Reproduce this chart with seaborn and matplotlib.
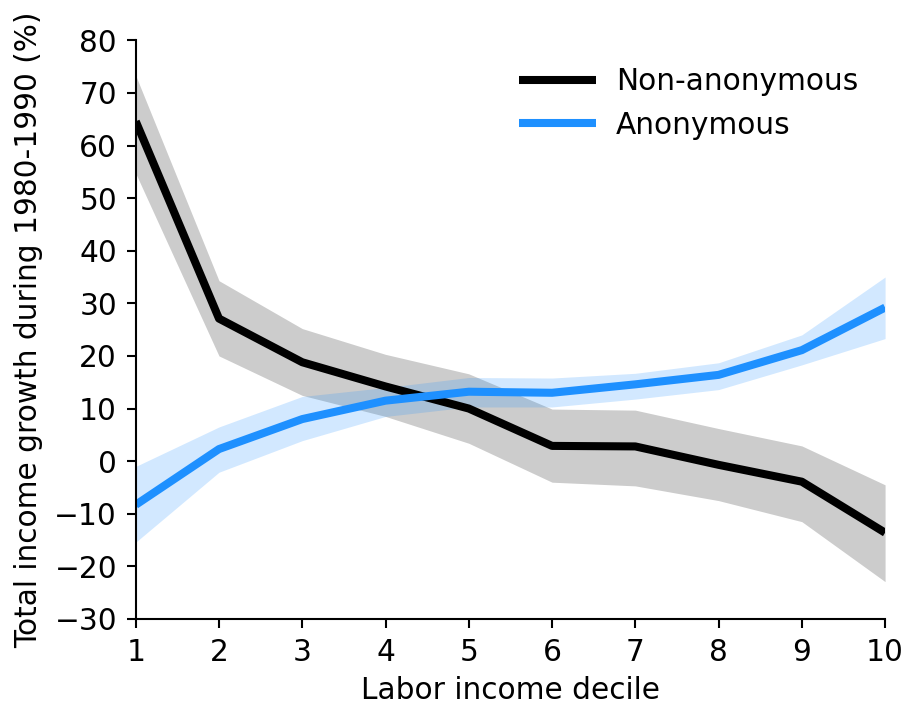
import numpy as np
import pandas as pd
import matplotlib
matplotlib.use("Agg")
import matplotlib.pyplot as plt
import seaborn as sns

deciles = [1, 2, 3, 4, 5, 6, 7, 8, 9, 10]

non_anon = [64.6, 27.1, 18.8, 14.2, 10.0, 2.9, 2.8, -0.7, -3.9, -13.6]
non_anon_hi = [73.3, 34.3, 25.2, 20.3, 16.6, 9.9, 9.7, 6.2, 2.9, -4.5]
non_anon_lo = [54.7, 20.0, 12.5, 8.5, 3.4, -4.0, -4.7, -7.5, -11.5, -22.9]

anon = [-8.3, 2.3, 8.0, 11.5, 13.2, 13.0, 14.6, 16.4, 21.1, 29.2]
anon_hi = [-1.0, 6.5, 12.3, 14.0, 15.9, 15.8, 16.7, 18.7, 24.0, 35.0]
anon_lo = [-15.4, -2.1, 3.9, 8.5, 10.3, 10.3, 11.8, 13.6, 18.3, 23.3]

series_names = ["Non-anonymous", "Anonymous"]
colors = ["black", "#1e90ff"]

sns.set_style("ticks")
plt.rcParams['font.family'] = ['DejaVu Sans']
fs = 21.3
plt.rcParams.update({
    'font.size': fs,
    'text.color': 'black',
    'axes.labelcolor': 'black',
    'xtick.color': 'black',
    'ytick.color': 'black',
    'axes.edgecolor': 'black',
    'lines.solid_capstyle': 'butt',
})

df = pd.DataFrame({
    "decile": deciles * 2,
    "growth": non_anon + anon,
    "series": [series_names[0]] * 10 + [series_names[1]] * 10,
})

fig, ax = plt.subplots(figsize=(9.05, 7.07), dpi=100)
fig.subplots_adjust(left=0.150, right=0.978, top=0.943, bottom=0.1245)

ax.fill_between(deciles, non_anon_lo, non_anon_hi, color=colors[0], alpha=0.2, linewidth=0)
ax.fill_between(deciles, anon_lo, anon_hi, color=colors[1], alpha=0.2, linewidth=0)

sns.lineplot(data=df, x="decile", y="growth", hue="series", palette=colors,
             hue_order=series_names, linewidth=5.8, ax=ax, legend=True)

ax.set_xlim(1, 10)
ax.set_ylim(-30, 80)
ax.set_xticks(deciles)
ax.set_yticks(np.arange(-30, 81, 10))
ax.set_xlabel("Labor income decile", fontsize=fs, labelpad=7)
ax.set_ylabel("Total income growth during 1980-1990 (%)", fontsize=fs, labelpad=8)
ax.tick_params(labelsize=fs, width=1.5, length=6.5, pad=7)
for s in ["left", "bottom"]:
    ax.spines[s].set_linewidth(1.5)
sns.despine(ax=ax)

leg = ax.legend(loc="upper right", bbox_to_anchor=(1.0, 1.0), frameon=False,
                fontsize=fs, handlelength=2.6, handletextpad=0.7,
                labelspacing=0.5, title=None)

fig.savefig("out.png", dpi=100)
